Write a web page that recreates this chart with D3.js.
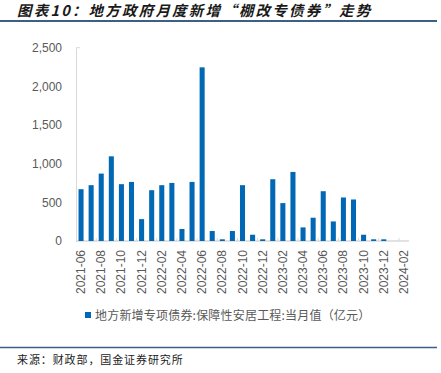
<!DOCTYPE html>
<html><head><meta charset="utf-8">
<script src="https://cdn.jsdelivr.net/npm/d3@7"></script>
<style>body{margin:0;background:#fff}svg{display:block}</style>
</head><body><svg id="c" width="441" height="373"></svg>
<script>
const months = ["2021-06","2021-07","2021-08","2021-09","2021-10","2021-11","2021-12",
"2022-01","2022-02","2022-03","2022-04","2022-05","2022-06","2022-07","2022-08","2022-09","2022-10","2022-11","2022-12",
"2023-01","2023-02","2023-03","2023-04","2023-05","2023-06","2023-07","2023-08","2023-09","2023-10","2023-11","2023-12",
"2024-01","2024-02"];
const values = [670,722,872,1095,735,764,283,657,722,751,155,764,2246,129,22,129,722,81,22,799,490,893,176,301,644,253,563,537,81,22,22,0,0];
const yTicks = [0,500,1000,1500,2000,2500];
const titleText = "图表10：地方政府月度新增“棚改专债券”走势";
const legendText = "地方新增专项债券:保障性安居工程:当月值（亿元）";
const sourceText = "来源：财政部，国金证券研究所";

(function () {
const svg = d3.select("#c");
const pl = 76, pr = 409, pt = 47.7, pb = 241;
const x = d3.scaleBand().domain(months).range([pl, pr]).paddingInner(0.5).paddingOuter(0.25);
const y = d3.scaleLinear().domain([0, 2500]).range([pb, pt]);
const gray = "#595959";
const font = "Liberation Sans, Arial, sans-serif";
const cjk = "'Noto Sans CJK SC', sans-serif";

svg.append("text").attr("x", 17).attr("y", 16).text(titleText)
  .attr("font-family", cjk).attr("font-size", 14.5).attr("font-weight", "bold")
  .attr("font-style", "italic").attr("letter-spacing", 2.2).attr("fill", "#1a1a1a");
svg.append("line").attr("x1", 0).attr("x2", 437).attr("y1", 21).attr("y2", 21)
  .attr("stroke", "#3c5f86").attr("stroke-width", 2);

const ya = svg.append("g").attr("transform", `translate(${pl},0)`)
  .call(d3.axisLeft(y).tickValues(yTicks).tickSize(0).tickPadding(14).tickFormat(d3.format(",")));
ya.select(".domain").attr("stroke", "#d9d9d9");
ya.selectAll("text").attr("font-family", font).attr("font-size", 12).attr("fill", gray);
svg.append("line").attr("x1", pl).attr("x2", pl + 4).attr("y1", y(2500)).attr("y2", y(2500)).attr("stroke", "#d9d9d9");

svg.append("line").attr("x1", pl).attr("x2", pr).attr("y1", pb).attr("y2", pb).attr("stroke", "#d9d9d9").attr("stroke-width", 1.5);
months.forEach((m, i) => {
  if (i % 2 === 1) {
    const tx = x(m) + x.bandwidth() / 2 + x.step() / 2;
    svg.append("line").attr("x1", tx).attr("x2", tx).attr("y1", pb).attr("y2", pb - 3).attr("stroke", "#d9d9d9");
  }
});

svg.append("g").selectAll("rect").data(values).join("rect")
  .attr("x", (d, i) => x(months[i]))
  .attr("width", x.bandwidth())
  .attr("y", d => y(d))
  .attr("height", d => pb - y(d))
  .attr("fill", "#0068b5");

svg.append("g").selectAll("text").data(months.filter((m, i) => i % 2 === 0)).join("text")
  .attr("transform", m => `translate(${x(m) + x.bandwidth() / 2 + 4},250) rotate(-90)`)
  .attr("text-anchor", "end")
  .attr("font-family", font).attr("font-size", 12).attr("fill", gray)
  .text(m => m);

svg.append("rect").attr("x", 85).attr("y", 312).attr("width", 6).attr("height", 6).attr("fill", "#0068b5");
svg.append("text").attr("x", 95).attr("y", 319.5).text(legendText)
  .attr("font-family", cjk).attr("font-size", 12).attr("letter-spacing", 0.2).attr("fill", gray);

svg.append("line").attr("x1", 0).attr("x2", 437).attr("y1", 347.5).attr("y2", 347.5)
  .attr("stroke", "#3c5f86").attr("stroke-width", 1.5);
svg.append("text").attr("x", 17).attr("y", 364).text(sourceText)
  .attr("font-family", cjk).attr("font-size", 11).attr("letter-spacing", 0.9).attr("fill", "#1a1a1a");
})();
</script></body></html>
